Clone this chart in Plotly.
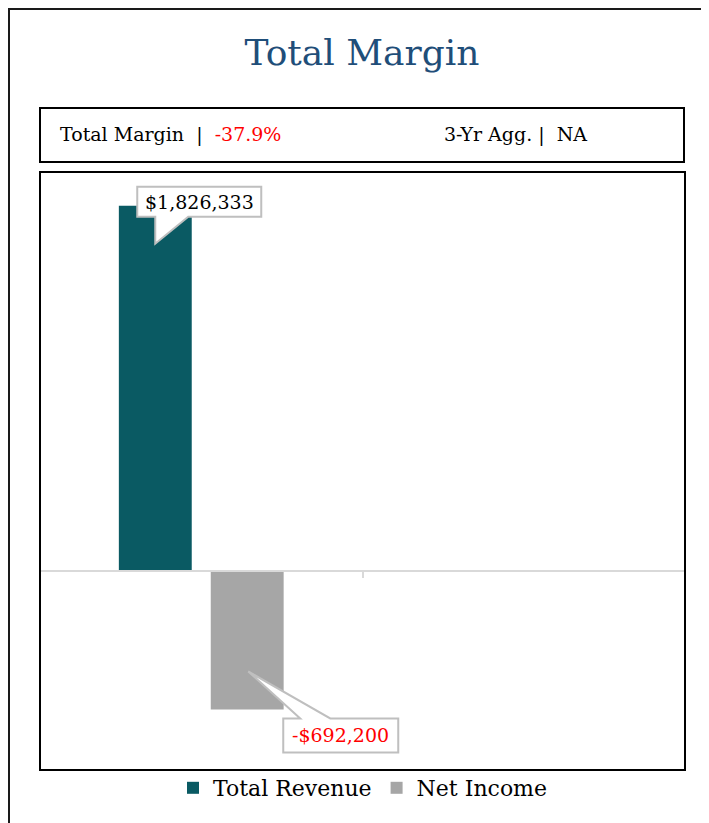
import plotly.graph_objects as go

# ---- data ----
categories = ["Year 1", "Year 2"]
total_revenue = [1826333, None]
net_income = [-692200, None]
series_names = ["Total Revenue", "Net Income"]
total_margin_label = "-37.9%"
agg_label = "NA"
revenue_label = "$1,826,333"
net_income_label = "-$692,200"

FONT = "DejaVu Serif"
OFF = 8  # page body margin
W, H = 701, 815
ML, MR, MT, MB = 32, 24, 163, 52
PW, PH = W - ML - MR, H - MT - MB


def px_x(p):
    return (p - OFF - ML) / PW


def px_y(p):
    return (H - MB - (p - OFF)) / PH


fig = go.Figure()
fig.add_trace(go.Bar(x=categories, y=total_revenue, name=series_names[0],
                     marker=dict(color="#0A5A63", line=dict(width=0))))
fig.add_trace(go.Bar(x=categories, y=net_income, name=series_names[1],
                     marker=dict(color="#A6A6A6", line=dict(width=0))))

shapes = []
# mask on the far right so no border shows there
shapes.append(dict(type="rect", xref="paper", yref="paper",
                   x0=px_x(692), x1=px_x(720), y0=px_y(830), y1=px_y(0),
                   fillcolor="white", line=dict(width=0), layer="above"))
# outer frame: only the top and left edges are visible in the window
shapes.append(dict(type="line", xref="paper", yref="paper",
                   x0=px_x(8), x1=px_x(712), y0=px_y(9), y1=px_y(9),
                   line=dict(color="#1a1a1a", width=2), layer="above"))
shapes.append(dict(type="line", xref="paper", yref="paper",
                   x0=px_x(9), x1=px_x(9), y0=px_y(8), y1=px_y(823),
                   line=dict(color="#1a1a1a", width=2), layer="below"))
# header box
shapes.append(dict(type="rect", xref="paper", yref="paper",
                   x0=px_x(40), x1=px_x(684), y0=px_y(162), y1=px_y(108),
                   line=dict(color="#000000", width=2)))
# chart box
shapes.append(dict(type="rect", xref="paper", yref="paper",
                   x0=px_x(40), x1=px_x(685), y0=px_y(770), y1=px_y(172),
                   line=dict(color="#000000", width=2)))
# callouts (pixel-sized paths anchored at the data points)
shapes.append(dict(type="path", xref="x", yref="y",
                   xsizemode="pixel", ysizemode="pixel",
                   xanchor=0, yanchor=total_revenue[0],
                   path="M -64,19 L 60,19 L 60,-11 L -13,-11 L -46,-38 L -46,-11 L -64,-11 Z",
                   fillcolor="white", line=dict(color="#BFBFBF", width=2), layer="above"))
shapes.append(dict(type="path", xref="x", yref="y",
                   xsizemode="pixel", ysizemode="pixel",
                   xanchor=0, yanchor=net_income[0],
                   path="M 82,-9 L 99,-9 L 47,38 L 129,-9 L 197,-9 L 197,-43 L 82,-43 Z",
                   fillcolor="white", line=dict(color="#BFBFBF", width=2), layer="above"))

annotations = [
    dict(xref="paper", yref="paper", x=px_x(58), y=px_y(135), xanchor="left", yanchor="middle",
         text=f"Total Margin  |  <span style='color:#FF0000'>{total_margin_label}</span>",
         showarrow=False, font=dict(family=FONT, size=19, color="#000000")),
    dict(xref="paper", yref="paper", x=px_x(442), y=px_y(135), xanchor="left", yanchor="middle",
         text=f"3-Yr Agg. |  {agg_label}",
         showarrow=False, font=dict(family=FONT, size=19, color="#000000")),
    dict(xref="x", yref="y", x=0, y=total_revenue[0], xshift=-2, yshift=4,
         text=revenue_label, showarrow=False,
         font=dict(family=FONT, size=19, color="#000000")),
    dict(xref="x", yref="y", x=0, y=net_income[0], xshift=139, yshift=-26,
         text=net_income_label, showarrow=False,
         font=dict(family=FONT, size=19, color="#FF0000")),
]

fig.update_layout(
    width=W, height=H,
    margin=dict(l=ML, r=MR, t=MT, b=MB),
    paper_bgcolor="white", plot_bgcolor="white",
    title=dict(text="Total Margin", x=px_x(362), xref="paper", xanchor="center",
               y=1 - (52 - OFF) / H, yanchor="middle",
               font=dict(family=FONT, size=36, color="#1F4E79")),
    barmode="group", bargap=0.43, bargroupgap=0.207,
    showlegend=True,
    legend=dict(orientation="h", x=px_x(363), xanchor="center", y=px_y(788), yanchor="middle",
                font=dict(family=FONT, size=22, color="#000000"), itemwidth=30,
                bgcolor="rgba(0,0,0,0)"),
    shapes=shapes, annotations=annotations,
    xaxis=dict(type="category", range=[-0.5, 1.5], showticklabels=False,
               tickson="boundaries", ticks="outside", ticklen=6, tickwidth=2,
               tickcolor="#D9D9D9", showline=True, linecolor="#D9D9D9", linewidth=2,
               showgrid=False, anchor="free", position=1 / 3, fixedrange=True),
    yaxis=dict(range=[-1000000, 2000000], showticklabels=False, showgrid=False,
               zeroline=False, ticks="", showline=False, fixedrange=True),
)

fig.write_html("out.html", config={"displayModeBar": False})
